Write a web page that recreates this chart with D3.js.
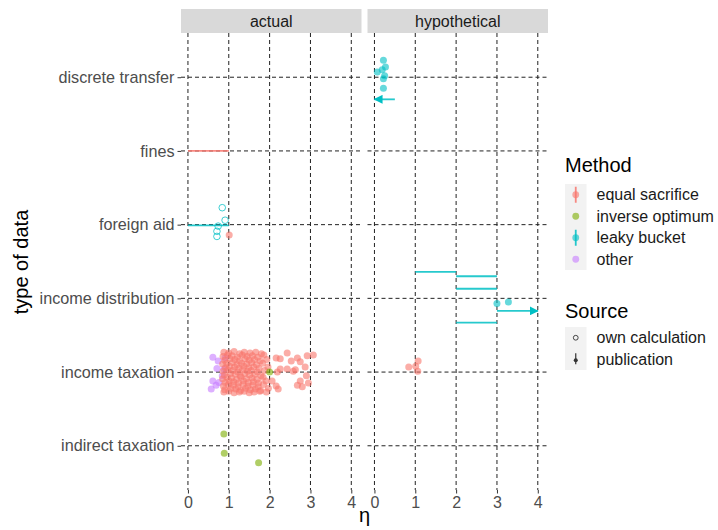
<!DOCTYPE html>
<html><head><meta charset="utf-8">
<script src="https://cdn.jsdelivr.net/npm/d3@7"></script>
<style>
body{margin:0;background:#fff}
svg{display:block}
text{font-family:"Liberation Sans",Arial,Helvetica,sans-serif}
</style>
</head><body>
<svg id="c" width="718" height="530"></svg>
<script>
// ---------------- data ----------------
const categories = ["discrete transfer","fines","foreign aid","income distribution","income taxation","indirect taxation"];
const panels = ["actual","hypothetical"];
const methods = ["equal sacrifice","inverse optimum","leaky bucket","other"];
const methodColors = ["#F8766D","#7CAE00","#00BFC4","#C77CFF"];
const sources = ["own calculation","publication"];
const xTicks = [0,1,2,3,4];

// points: [eta, vertical jitter in category units]
const incomeTaxEqualActual = [
 [0.88,-0.27],[1.00,-0.26],[1.13,-0.28],[1.27,-0.25],[1.38,-0.27],[1.52,-0.26],[1.66,-0.27],[1.80,-0.25],
 [0.86,-0.21],[0.97,-0.23],[1.08,-0.22],[1.21,-0.20],[1.33,-0.23],[1.45,-0.21],[1.58,-0.22],[1.71,-0.20],[1.86,-0.23],
 [0.90,-0.16],[1.03,-0.18],[1.15,-0.17],[1.26,-0.15],[1.40,-0.18],[1.50,-0.16],[1.63,-0.17],[1.77,-0.15],[1.93,-0.17],
 [0.85,-0.11],[0.95,-0.12],[1.09,-0.13],[1.20,-0.10],[1.31,-0.12],[1.44,-0.11],[1.56,-0.13],[1.68,-0.10],[1.83,-0.12],
 [0.92,-0.06],[1.02,-0.08],[1.14,-0.07],[1.25,-0.05],[1.37,-0.08],[1.49,-0.06],[1.61,-0.07],[1.74,-0.05],[1.96,-0.07],
 [0.86,-0.01],[0.98,-0.03],[1.10,-0.02],[1.22,0.00],[1.34,-0.03],[1.46,-0.01],[1.55,-0.02],[1.70,0.00],[1.88,-0.02],
 [0.89,0.04],[1.04,0.02],[1.16,0.03],[1.28,0.05],[1.39,0.02],[1.51,0.04],[1.64,0.03],[1.79,0.05],
 [0.85,0.09],[0.96,0.07],[1.07,0.08],[1.19,0.10],[1.30,0.07],[1.43,0.09],[1.57,0.08],[1.69,0.10],[1.84,0.07],
 [0.91,0.14],[1.01,0.12],[1.12,0.13],[1.24,0.15],[1.36,0.12],[1.48,0.14],[1.60,0.13],[1.73,0.15],[1.91,0.12],
 [0.87,0.19],[0.99,0.17],[1.11,0.18],[1.23,0.20],[1.35,0.17],[1.47,0.19],[1.59,0.18],[1.72,0.20],[1.85,0.17],
 [0.90,0.24],[1.05,0.22],[1.17,0.23],[1.29,0.25],[1.41,0.22],[1.53,0.24],[1.65,0.23],[1.78,0.25],[1.97,0.22],
 [0.88,0.27],[1.00,0.26],[1.13,0.28],[1.26,0.27],[1.38,0.26],[1.50,0.28],[1.62,0.27],[1.76,0.26],
 [2.16,-0.19],[2.26,-0.18],[2.43,-0.26],[2.53,-0.15],[2.68,-0.19],[2.75,-0.14],[2.92,-0.22],[3.07,-0.23],
 [2.90,0.05],[2.75,0.12],[2.68,0.18],[2.80,0.20],[2.95,0.15],[2.16,0.19],[2.21,0.23],[2.63,-0.03],
 [2.43,-0.04],[2.26,-0.04],[2.19,0.00],[2.58,-0.01],[2.87,-0.07],[2.06,0.12],[1.92,0.27]
];
const incomeTaxOtherActual = [[0.61,-0.20],[0.74,-0.15],[0.91,-0.19],[0.71,-0.05],[0.84,0.05],[0.61,0.12],[0.76,0.14],[0.57,0.23],[0.88,-0.04],[0.69,0.18]];
const incomeTaxInverseActual = [[2.00,0.00]];
const indirectTaxInverseActual = [[0.88,-0.16],[0.89,0.10],[1.73,0.23]];
const foreignAidLeakyOwnActual = [[0.84,-0.23],[0.91,-0.06],[0.74,0.02],[0.71,0.09],[0.71,0.16]];
const foreignAidEqualActual = [[1.01,0.14]];
const discreteLeakyHyp = [[0.22,-0.23],[0.27,-0.14],[0.19,-0.10],[0.07,-0.07],[0.25,-0.02],[0.22,0.02],[0.22,0.15]];
const incomeDistLeakyHyp = [[3.00,0.07],[3.28,0.05]];
const incomeTaxEqualHyp = [[1.07,-0.15],[1.01,-0.08],[0.84,-0.07],[1.06,-0.01]];

// ranges: [from, to, jitter]
const finesEqualRangeActual = [[0,1,0.00]];
const foreignAidLeakyRangeActual = [[0,1,0.01]];
const incomeDistLeakyRangeHyp = [[1,2,-0.36],[2,3,-0.30],[2,3,-0.13],[2,3,0.33]];
// arrows: [from, to, jitter]
const discreteLeakyArrowHyp = [[0.5,0.0,0.30]];
const incomeDistLeakyArrowHyp = [[3.0,4.0,0.17]];

const pointGroups = [
 {panel:"actual", cat:"income taxation", method:"other", source:"publication", data:incomeTaxOtherActual},
 {panel:"actual", cat:"income taxation", method:"equal sacrifice", source:"publication", data:incomeTaxEqualActual},
 {panel:"actual", cat:"income taxation", method:"inverse optimum", source:"publication", data:incomeTaxInverseActual},
 {panel:"actual", cat:"indirect taxation", method:"inverse optimum", source:"publication", data:indirectTaxInverseActual},
 {panel:"actual", cat:"foreign aid", method:"leaky bucket", source:"own calculation", data:foreignAidLeakyOwnActual},
 {panel:"actual", cat:"foreign aid", method:"equal sacrifice", source:"publication", data:foreignAidEqualActual},
 {panel:"hypothetical", cat:"discrete transfer", method:"leaky bucket", source:"publication", data:discreteLeakyHyp},
 {panel:"hypothetical", cat:"income distribution", method:"leaky bucket", source:"publication", data:incomeDistLeakyHyp},
 {panel:"hypothetical", cat:"income taxation", method:"equal sacrifice", source:"publication", data:incomeTaxEqualHyp}
];
const rangeGroups = [
 {panel:"actual", cat:"fines", method:"equal sacrifice", data:finesEqualRangeActual, arrow:false},
 {panel:"actual", cat:"foreign aid", method:"leaky bucket", data:foreignAidLeakyRangeActual, arrow:false},
 {panel:"hypothetical", cat:"income distribution", method:"leaky bucket", data:incomeDistLeakyRangeHyp, arrow:false},
 {panel:"hypothetical", cat:"discrete transfer", method:"leaky bucket", data:discreteLeakyArrowHyp, arrow:true},
 {panel:"hypothetical", cat:"income distribution", method:"leaky bucket", data:incomeDistLeakyArrowHyp, arrow:true}
];

// ---------------- layout ----------------
const svg = d3.select("#c");
const panelTop = 33, panelBottom = 490, panelW = 180.5;
const panelX = {actual:181, hypothetical:367.5};
const FONT = '"Liberation Sans",Arial,Helvetica,sans-serif';
const color = d3.scaleOrdinal().domain(methods).range(methodColors);
const y = d3.scalePoint().domain(categories).range([panelTop, panelBottom]).padding(0.6);
const yPos = (cat, j) => y(cat) + j * y.step();
const xs = {};
panels.forEach(p => { xs[p] = d3.scaleLinear().domain([-0.17, 4.25]).range([panelX[p], panelX[p] + panelW]); });

const gridColor = "#222";
panels.forEach(p => {
  const x0 = panelX[p];
  const g = svg.append("g");
  // strip
  svg.append("rect").attr("x", x0).attr("y", 9).attr("width", panelW).attr("height", 24).attr("fill", "#d9d9d9");
  svg.append("text").attr("x", x0 + panelW/2).attr("y", 27).attr("text-anchor","middle")
     .attr("font-size", 16).attr("fill","#1a1a1a").text(p);
  // grid
  g.selectAll("line.v").data(xTicks).join("line")
    .attr("x1", d => xs[p](d)).attr("x2", d => xs[p](d))
    .attr("y1", panelTop).attr("y2", panelBottom)
    .attr("stroke", gridColor).attr("stroke-width", 1).attr("stroke-dasharray","4,3");
  g.selectAll("line.h").data(categories).join("line")
    .attr("x1", x0).attr("x2", x0 + panelW)
    .attr("y1", d => y(d)).attr("y2", d => y(d))
    .attr("stroke", gridColor).attr("stroke-width", 1).attr("stroke-dasharray","4,3");
  // x axis
  const ax = svg.append("g").attr("transform", `translate(0,${panelBottom})`)
    .call(d3.axisBottom(xs[p]).tickValues(xTicks).tickSize(3.5).tickPadding(3).tickFormat(d3.format("d")));
  ax.select(".domain").remove();
  ax.selectAll(".tick line").attr("stroke","#333");
  ax.selectAll(".tick text").attr("font-size", 16).attr("fill","#4d4d4d").attr("font-family",FONT);
});

// y axis
const ay = svg.append("g").attr("transform", `translate(${panelX.actual},0)`)
  .call(d3.axisLeft(y).tickSize(3.5).tickPadding(3));
ay.select(".domain").remove();
ay.selectAll(".tick line").attr("stroke","#333");
ay.selectAll(".tick text").attr("font-size", 16.2).attr("fill","#4d4d4d").attr("font-family",FONT);

// axis titles
svg.append("text").attr("transform","translate(28,262) rotate(-90)").attr("text-anchor","middle")
  .attr("font-size", 20).attr("fill","#000").text("type of data");
svg.append("text").attr("x", 364.5).attr("y", 522).attr("text-anchor","middle")
  .attr("font-size", 20).attr("fill","#000").text("η");

// arrow markers
const defs = svg.append("defs");
defs.append("marker").attr("id","arrowC").attr("viewBox","0 0 10 10").attr("refX",9).attr("refY",5)
  .attr("markerWidth",9).attr("markerHeight",9).attr("markerUnits","userSpaceOnUse").attr("orient","auto")
  .append("path").attr("d","M0,0 L10,5 L0,10 Z").attr("fill", color("leaky bucket"));

// ranges
rangeGroups.forEach(gr => {
  svg.append("g").selectAll("line").data(gr.data).join("line")
    .attr("x1", d => xs[gr.panel](d[0])).attr("x2", d => xs[gr.panel](d[1]))
    .attr("y1", d => yPos(gr.cat, d[2])).attr("y2", d => yPos(gr.cat, d[2]))
    .attr("stroke", color(gr.method)).attr("stroke-width", 1.8).attr("stroke-opacity", 0.85)
    .attr("marker-end", gr.arrow ? "url(#arrowC)" : null);
});

// points
pointGroups.forEach(gr => {
  const sel = svg.append("g").selectAll("circle").data(gr.data).join("circle")
    .attr("cx", d => xs[gr.panel](d[0])).attr("cy", d => yPos(gr.cat, d[1]));
  if (gr.source === "publication") {
    sel.attr("r", 3.5).attr("fill", color(gr.method)).attr("fill-opacity", 0.6);
  } else {
    sel.attr("r", 3.3).attr("fill","none").attr("stroke", color(gr.method)).attr("stroke-opacity",0.75).attr("stroke-width",1);
  }
});

// ---------------- legend ----------------
const lx = 565, keyW = 21.5, keyH = 21.5;
const leg = svg.append("g");
leg.append("text").attr("x", lx).attr("y", 172).attr("font-size", 20).attr("fill","#000").text("Method");
const mTop = 184;
leg.append("rect").attr("x", lx).attr("y", mTop).attr("width", keyW).attr("height", keyH*methods.length).attr("fill","#f2f2f2");
methods.forEach((m, i) => {
  const cy = mTop + keyH*i + keyH/2, cx = lx + keyW/2;
  if (m === "equal sacrifice" || m === "leaky bucket") {
    leg.append("line").attr("x1",cx).attr("x2",cx).attr("y1",cy-8).attr("y2",cy+8)
      .attr("stroke", color(m)).attr("stroke-width",1.8).attr("stroke-opacity",0.85);
  }
  leg.append("circle").attr("cx",cx).attr("cy",cy).attr("r",3.4).attr("fill",color(m)).attr("fill-opacity",0.6);
  leg.append("text").attr("x", lx + keyW + 10).attr("y", cy + 5.5).attr("font-size", 16).attr("fill","#1a1a1a").text(m);
});
leg.append("text").attr("x", lx).attr("y", 318).attr("font-size", 20).attr("fill","#000").text("Source");
const sTop = 327;
leg.append("rect").attr("x", lx).attr("y", sTop).attr("width", keyW).attr("height", keyH*sources.length).attr("fill","#f2f2f2");
sources.forEach((s, i) => {
  const cy = sTop + keyH*i + keyH/2, cx = lx + keyW/2;
  if (s === "own calculation") {
    leg.append("circle").attr("cx",cx).attr("cy",cy).attr("r",2.4).attr("fill","none").attr("stroke","#333").attr("stroke-width",0.9);
  } else {
    leg.append("line").attr("x1",cx).attr("x2",cx).attr("y1",cy-6).attr("y2",cy+5).attr("stroke","#333").attr("stroke-width",1.2);
    leg.append("circle").attr("cx",cx).attr("cy",cy+1).attr("r",2).attr("fill","#333");
  }
  leg.append("text").attr("x", lx + keyW + 10).attr("y", cy + 5.5).attr("font-size", 16).attr("fill","#1a1a1a").text(s);
});
</script>
</body></html>
